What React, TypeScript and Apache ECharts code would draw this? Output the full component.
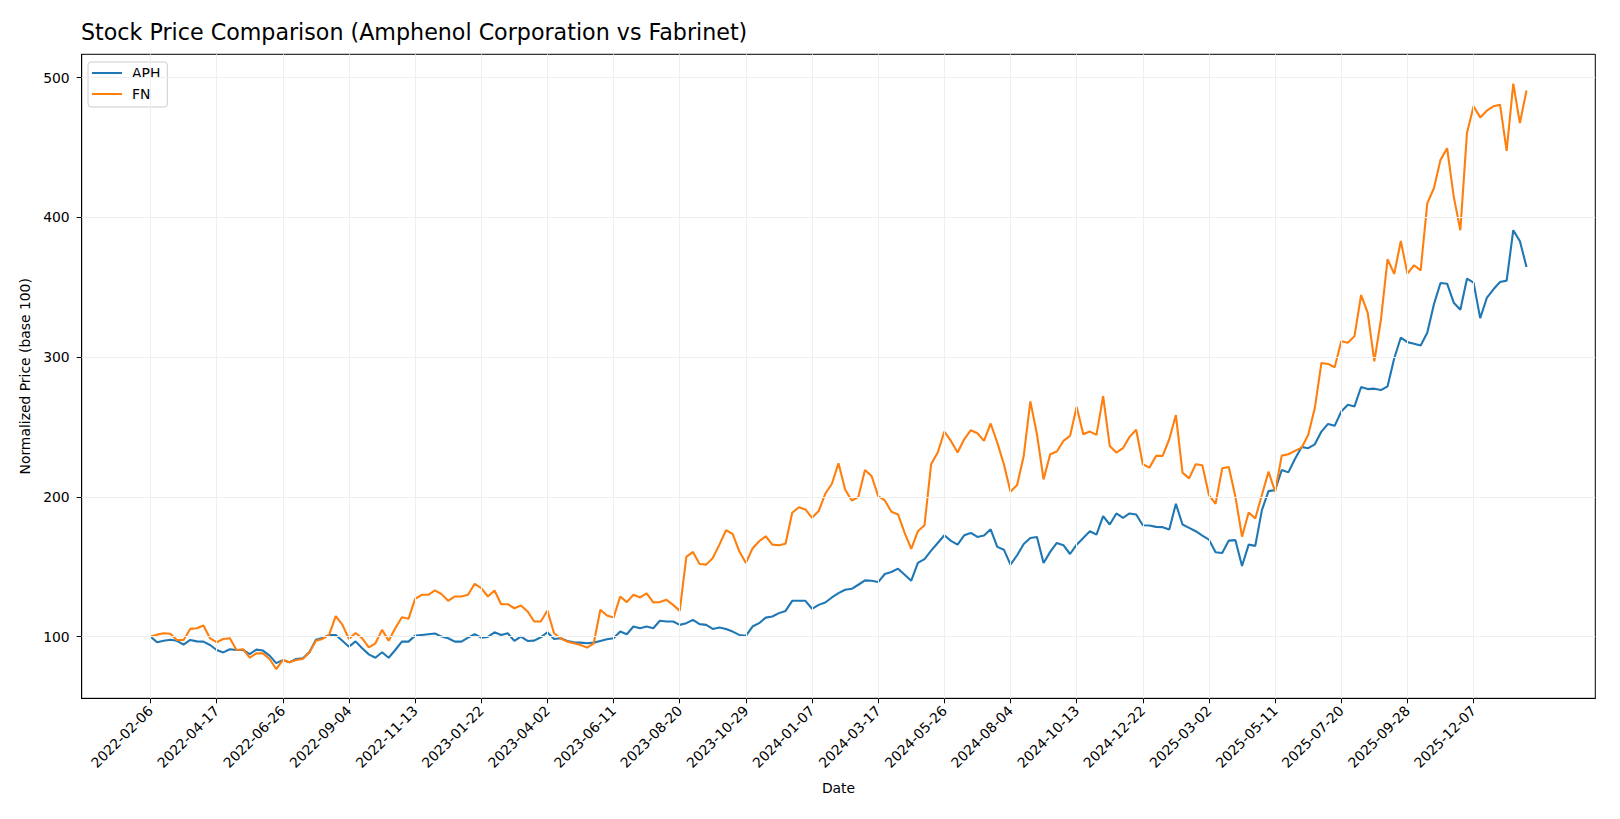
import React, { useEffect, useRef } from 'react';
import * as echarts from 'echarts';

const TITLE = 'Stock Price Comparison (Amphenol Corporation vs Fabrinet)';
const X_NAME = 'Date';
const Y_NAME = 'Normalized Price (base 100)';
const FONT = '"DejaVu Sans", sans-serif';

// labelled x ticks, one every TICK_STEP weekly points
const TICK_STEP = 10;
const TICK_LABELS = [
  '2022-02-06', '2022-04-17', '2022-06-26', '2022-09-04', '2022-11-13',
  '2023-01-22', '2023-04-02', '2023-06-11', '2023-08-20', '2023-10-29',
  '2024-01-07', '2024-03-17', '2024-05-26', '2024-08-04', '2024-10-13',
  '2024-12-22', '2025-03-02', '2025-05-11', '2025-07-20', '2025-09-28',
  '2025-12-07',
];
const Y_TICKS = [100, 200, 300, 400, 500];

// weekly normalized prices (base 100)
const APH = [
  100, 96, 97, 97.8, 97, 94.3, 97.6, 96.6, 96.4, 94,
  90.4, 88.7, 91, 90.4, 90.4, 87.5, 90.7, 90, 86.4, 81,
  83.2, 81.6, 84, 84.4, 88.7, 97.8, 99, 101.2, 101.2, 97,
  92.8, 96.6, 91.6, 87.3, 84.9, 88.8, 84.9, 90.4, 96.4, 96.4,
  100.7, 101.2, 101.7, 102.2, 100, 98.8, 96.4, 96.4, 99.3, 101.7,
  99.3, 99.8, 103.1, 101.2, 102.4, 96.9, 100, 96.9, 97.1, 99.5,
  103.1, 98.3, 98.8, 96.9, 95.9, 95.7, 95.2, 95.7, 96.9, 98.1,
  98.8, 103.6, 101.7, 107.2, 106, 107.2, 106, 111.3, 110.8, 110.8,
  108.4, 109.6, 112, 108.9, 108.4, 105.5, 106.5, 105.5, 103.6, 101.2,
  100.5, 107.2, 109.6, 113.6, 114.4, 116.8, 118.4, 125.6, 125.6, 125.6,
  119.9, 122.7, 124.4, 128, 131.1, 133.5, 134.2, 137.1, 140.2, 140,
  139, 144.8, 146.2, 148.6, 144.3, 140, 152.7, 155.5, 161.5, 167,
  172.5, 168.5, 165.8, 172.5, 174.2, 171.3, 172.3, 176.8, 164.2, 162.2,
  151.5, 158.2, 166.3, 170.6, 171.3, 152.7, 160.6, 167, 165.4, 159.1,
  165.8, 170.6, 175.4, 173, 186.2, 180.2, 188.1, 185, 188.1, 187.4,
  179.7, 179.5, 178.5, 178.3, 176.6, 195, 180.2, 177.8, 175.4, 172.3,
  169.4, 160.3, 159.8, 168.7, 169, 150.5, 165.8, 164.9, 190.5, 204.1,
  204.8, 219.2, 217.5, 227.1, 235.7, 234.8, 237.6, 246.7, 252.2, 250.8,
  261.1, 265.9, 264.7, 278.6, 277.1, 277.4, 276.4, 279.1, 299, 314,
  310.7, 309.5, 308.3, 317.4, 337.7, 353, 352.5, 338.9, 333.9, 356.1,
  353.3, 327.9, 342.3, 348.5, 353.7, 354.7, 390.8, 383, 364.5,
];

const FN = [
  100, 101.4, 102.4, 102, 97.6, 97.6, 105.5, 106, 108, 98.8,
  96, 98.3, 98.8, 90.4, 91, 85, 88, 88, 84, 76.8,
  83.2, 81.6, 83.2, 84, 88.7, 97, 98.3, 101.2, 114.6, 108.6,
  98.3, 102.6, 98.8, 92.3, 95.2, 104.8, 97.1, 106, 113.9, 112.7,
  127, 129.9, 129.9, 133, 130.4, 125.6, 128.7, 128.7, 129.9, 137.8,
  134.7, 128.7, 133, 123.2, 123.2, 120.3, 122.3, 118, 110.8, 110.8,
  118.7, 102.4, 98.8, 96.4, 95.2, 94, 92.1, 95.2, 119.2, 115.1,
  113.6, 128.7, 124.7, 129.9, 128, 130.9, 124.5, 124.7, 126.3, 122.7,
  118.4, 157, 160.6, 151.9, 151.5, 156.3, 165.8, 176.1, 173.5, 161,
  152.7, 163, 168.2, 171.8, 165.8, 165.4, 166.5, 188.6, 192.6, 191,
  185, 189.8, 202.2, 209.4, 224, 205.3, 197.4, 199.8, 219.2, 214.9,
  200.5, 197.4, 189.3, 187.4, 174.2, 162.7, 175.4, 179.7, 223.3, 231.7,
  246.7, 240, 231.7, 241.2, 247.7, 245.5, 240, 252.5, 238.8, 223.3,
  203.7, 208.4, 229.3, 268.3, 244.8, 212.5, 230.5, 232.4, 240, 243.6,
  264.5, 244.8, 246.7, 244.3, 272, 236.4, 231.7, 234.8, 242.9, 248,
  223.3, 220.9, 229.3, 229.3, 241.2, 258.5, 217.3, 213.2, 223.3, 222.6,
  201.3, 195, 220.4, 221.4, 200, 171.5, 188.8, 184.5, 201.3, 218,
  203.7, 229.5, 230.5, 232.9, 235.2, 244.3, 263.5, 295.8, 295.1, 292.7,
  311.4, 310.2, 315, 344.4, 331.7, 297, 326.9, 370, 359.5, 383,
  359.7, 365.7, 362.1, 410, 420.8, 441.1, 449.5, 414.8, 390.8, 460.3,
  479.4, 471.5, 476.3, 479.4, 480.6, 447.6, 495.7, 467.4, 490.7,
];

const APH_COLOR = '#1f77b4';
const FN_COLOR = '#ff7f0e';

export default function App() {
  const ref = useRef<HTMLDivElement>(null);

  useEffect(() => {
    if (!ref.current) return;
    const chart = echarts.init(ref.current, null, { renderer: 'svg' });

    const n = APH.length;
    const xPad = (n - 1) * 0.05;
    const all = [...APH, ...FN];
    const lo = Math.min(...all);
    const hi = Math.max(...all);
    const yPad = (hi - lo) * 0.05;
    const xTicks = TICK_LABELS.map((_, i) => i * TICK_STEP);

    const textBase = { fontFamily: FONT, fontSize: 13.9, color: '#000' };

    chart.setOption({
      animation: false,
      title: {
        text: TITLE,
        left: 81,
        top: 21,
        padding: 0,
        textStyle: { fontFamily: FONT, fontSize: 22.2, fontWeight: 'normal', color: '#000' },
      },
      legend: {
        data: ['APH', 'FN'],
        orient: 'vertical',
        left: 88,
        top: 62,
        icon: 'rect',
        itemWidth: 30,
        itemHeight: 2,
        itemGap: 7,
        padding: [4, 7, 6, 4],
        borderColor: '#cccccc',
        borderWidth: 1,
        borderRadius: 3,
        backgroundColor: 'rgba(255,255,255,0.8)',
        textStyle: { ...textBase, lineHeight: 14, padding: [0, 0, 0, 5] },
      },
      grid: {
        left: 81.7,
        right: 24.7,
        top: 54.3,
        bottom: 120.7,
        show: true,
        borderColor: '#000',
        borderWidth: 1,
        backgroundColor: 'transparent',
      },
      xAxis: {
        type: 'value',
        min: -xPad,
        max: n - 1 + xPad,
        name: X_NAME,
        nameLocation: 'middle',
        nameGap: 83,
        nameTextStyle: textBase,
        axisLine: { show: true, onZero: false, lineStyle: { color: '#000', width: 1 } },
        axisTick: { show: true, customValues: xTicks, length: 5, lineStyle: { color: '#000' } },
        axisLabel: {
          ...textBase,
          customValues: xTicks,
          rotate: 45,
          margin: 10,
          formatter: (v: number) => TICK_LABELS[Math.round(v / TICK_STEP)] ?? '',
        },
        splitLine: { show: false },
      },
      yAxis: {
        type: 'value',
        min: lo - yPad,
        max: hi + yPad,
        name: Y_NAME,
        nameLocation: 'middle',
        nameGap: 38,
        nameTextStyle: textBase,
        axisLine: { show: true, onZero: false, lineStyle: { color: '#000', width: 1 } },
        axisTick: { show: true, customValues: Y_TICKS, length: 5, lineStyle: { color: '#000' } },
        axisLabel: { ...textBase, customValues: Y_TICKS, margin: 12 },
        splitLine: { show: false },
      },
      series: [
        {
          name: 'grid',
          type: 'line',
          data: [],
          silent: true,
          z: 1,
          markLine: {
            silent: true,
            symbol: 'none',
            label: { show: false },
            lineStyle: { color: '#efefef', width: 1, type: 'solid' },
            data: [
              ...xTicks.map((x) => ({ xAxis: x })),
              ...Y_TICKS.map((y) => ({ yAxis: y })),
            ],
          },
        },
        {
          name: 'APH',
          type: 'line',
          data: APH.map((v, i) => [i, v]),
          showSymbol: false,
          symbol: 'none',
          color: APH_COLOR,
          lineStyle: { color: APH_COLOR, width: 2.1 },
          z: 3,
        },
        {
          name: 'FN',
          type: 'line',
          data: FN.map((v, i) => [i, v]),
          showSymbol: false,
          symbol: 'none',
          color: FN_COLOR,
          lineStyle: { color: FN_COLOR, width: 2.1 },
          z: 4,
        },
      ],
    });

    return () => chart.dispose();
  }, []);

  return (
    <div
      ref={ref}
      style={{ position: 'fixed', left: 0, top: 0, width: 1620, height: 819, background: '#fff' }}
    />
  );
}
